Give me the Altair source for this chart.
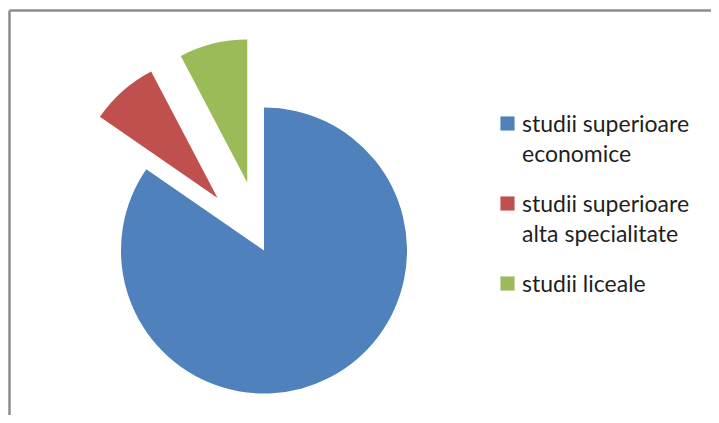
import altair as alt
import pandas as pd

# ---- data ----
categories = [
    "studii superioare economice",
    "studii superioare alta specialitate",
    "studii liceale",
]
values = [22, 2, 2]
legend_line1 = ["studii superioare", "studii superioare", "studii liceale"]
legend_line2 = ["economice", "alta specialitate", ""]
colors = ["#4F81BD", "#C0504D", "#9BBB59"]

df = pd.DataFrame({
    "category": categories,
    "value": values,
    "line1": legend_line1,
    "line2": legend_line2,
    "order": list(range(len(categories))),
})

# ---- layout parameters ----
W, H = 701, 404
CX, CY = 254.5, 240          # pie centre inside plot area
RADIUS = 143
EXPLODE = 70

color_scale = alt.Scale(domain=categories, range=colors)

pie = (
    alt.Chart(df)
    .transform_window(cum="sum(value)", sort=[alt.SortField("order")])
    .transform_joinaggregate(total="sum(value)")
    .transform_calculate(
        start="(datum.cum - datum.value) / datum.total * 2 * PI",
        end="datum.cum / datum.total * 2 * PI",
    )
    .transform_calculate(mid="(datum.start + datum.end) / 2")
    .transform_calculate(
        d=f"datum.order == 0 ? 0 : {EXPLODE}",
    )
    .transform_calculate(
        cx="datum.d * sin(datum.mid)",
        cy="datum.d * cos(datum.mid)",
    )
    .mark_arc(radius=RADIUS, strokeWidth=0)
    .encode(
        theta=alt.Theta("start:Q", scale=None, stack=None),
        theta2="end:Q",
        x=alt.X("cx:Q", scale=alt.Scale(domain=[-CX, W - CX], nice=False, zero=False), axis=None),
        y=alt.Y("cy:Q", scale=alt.Scale(domain=[-(H - CY), CY], nice=False, zero=False), axis=None),
        color=alt.Color("category:N", scale=color_scale, legend=None),
    )
)

leg_y = alt.Y(
    "category:N",
    scale=alt.Scale(type="point", domain=categories, range=[113, 273], padding=0),
    axis=None,
)

leg_sym = alt.Chart(df).mark_square(size=200, opacity=1).encode(
    x=alt.value(498),
    y=leg_y,
    color=alt.Color("category:N", scale=color_scale, legend=None),
)

FONT = "Lato"
FS = 23
leg_txt1 = alt.Chart(df).mark_text(
    align="left", baseline="alphabetic", dy=8, font=FONT, fontSize=FS, color="#1f1f1f"
).encode(x=alt.value(512.5), y=leg_y, text="line1:N")

leg_txt2 = alt.Chart(df).mark_text(
    align="left", baseline="alphabetic", dy=38, font=FONT, fontSize=FS, color="#1f1f1f"
).encode(x=alt.value(512.5), y=leg_y, text="line2:N")

one = alt.Data(values=[{"a": 1}])
frame_left = alt.Chart(one).mark_rule(color="#8c8c8c", strokeWidth=2.5).encode(
    x=alt.value(0), y=alt.value(0), y2=alt.value(H + 20)
)
frame_top = alt.Chart(one).mark_rule(color="#8c8c8c", strokeWidth=2.5).encode(
    y=alt.value(0), x=alt.value(0), x2=alt.value(W + 20)
)

chart = (
    alt.layer(pie, leg_sym, leg_txt1, leg_txt2, frame_left, frame_top)
    .resolve_scale(x="independent", y="independent")
    .properties(
        width=W,
        height=H,
        padding={"left": 1.5, "top": 2.5, "right": 0, "bottom": 0},
        autosize=alt.AutoSizeParams(type="none"),
        background="white",
    )
    .configure_view(stroke=None)
)

chart.save("out.html", embed_options={"renderer": "svg", "actions": False})
